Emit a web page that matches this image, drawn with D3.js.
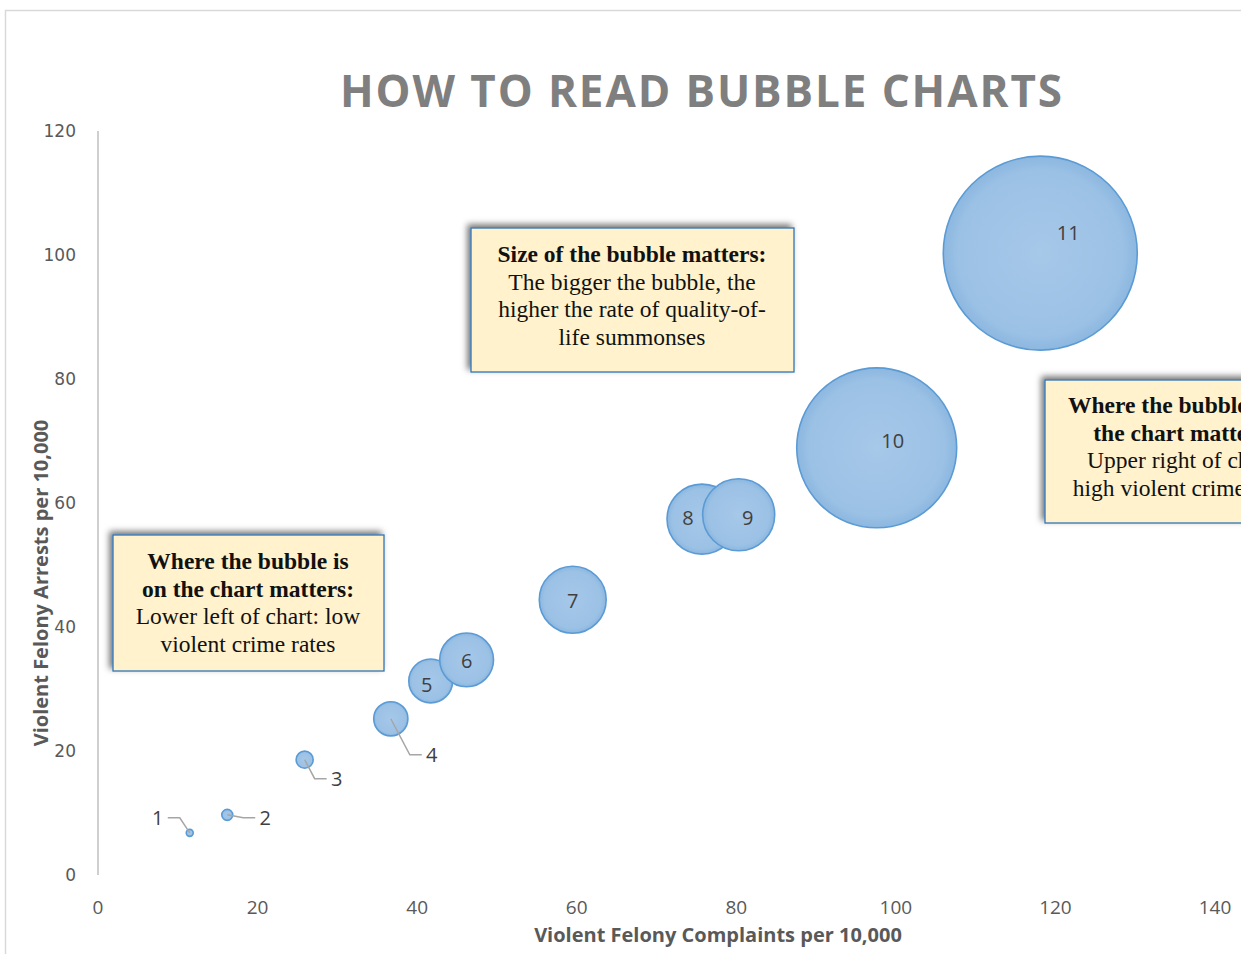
<!DOCTYPE html>
<html>
<head>
<meta charset="utf-8">
<title>How to read bubble charts</title>
<script src="https://cdn.jsdelivr.net/npm/d3@7"></script>
<style>
	body { margin: 0; background: #fff; }
	svg { display: block; }
</style>
</head>
<body>
<div id="chart"></div>
<script>
// precincts
const ids = ["1", "2", "3", "4", "5", "6", "7", "8", "9", "10", "11"];
const complaints = [11.5, 16.2, 25.9, 36.7, 41.7, 46.2, 59.5, 75.7, 80.3, 97.6, 118.1];
const arrests = [6.8, 9.7, 18.6, 25.2, 31.3, 34.7, 44.4, 57.4, 58.1, 68.9, 100.3];
const summonses = [0.13, 0.32, 0.77, 3.1, 5.1, 7.7, 11.9, 13.0, 13.8, 68, 100];
const xTicks = [0, 20, 40, 60, 80, 100, 120, 140];
const yTicks = [0, 20, 40, 60, 80, 100, 120];

// label nudges (px) - leader=true draws the elbow line
const labelPos = [
	{dx: -32, dy: -15, leader: true}, {dx: 38, dy: 3, leader: true},
	{dx: 32, dy: 19, leader: true}, {dx: 41, dy: 36, leader: true},
	{dx: -4, dy: 4}, {dx: 0, dy: 1}, {dx: 0, dy: 1}, {dx: -14, dy: -1},
	{dx: 9, dy: 3}, {dx: 16, dy: -7}, {dx: 28, dy: -20}
];

const notes = [
	{x: 113, y: 535, w: 271, h: 136, cx: 248, y0: 561,
		bold: ["Where the bubble is", "on the chart matters:"], plain: ["Lower left of chart: low", "violent crime rates"]},
	{x: 471, y: 228, w: 323, h: 144, cx: 632, y0: 254,
		bold: ["Size of the bubble matters:"], plain: ["The bigger the bubble, the", "higher the rate of quality-of-", "life summonses"]},
	{x: 1045, y: 380, w: 278, h: 143, cx: 1184, y0: 405,
		bold: ["Where the bubble is on", "the chart matters:"], plain: ["Upper right of chart:", "high violent crime rates"]}
];

const W = 1241, H = 954;
const svg = d3.select("#chart").append("svg").attr("width", W).attr("height", H);
const defs = svg.append("defs");

const grad = defs.append("radialGradient").attr("id", "bub");
grad.append("stop").attr("offset", "0%").attr("stop-color", "#a6c8e9");
grad.append("stop").attr("offset", "85%").attr("stop-color", "#9bc1e5");
grad.append("stop").attr("offset", "100%").attr("stop-color", "#8cb7e0");

defs.append("filter").attr("id", "shadow").attr("x", "-10%").attr("y", "-15%").attr("width", "120%").attr("height", "130%")
	.append("feDropShadow").attr("dx", -3).attr("dy", -3).attr("stdDeviation", 3)
	.attr("flood-color", "#000").attr("flood-opacity", 0.55);

// frame of the chart area
svg.append("path").attr("d", "M5.5," + H + "V10.5H" + W)
	.attr("fill", "none").attr("stroke", "#d9d9d9").attr("stroke-width", 1.5);

const x = d3.scaleLinear().domain([0, 140]).range([98, 1215]);
const y = d3.scaleLinear().domain([0, 120]).range([875, 131]);
const r = d3.scaleSqrt().domain([0, d3.max(summonses)]).range([0, 97]);

svg.append("text").attr("x", 701).attr("y", 107).attr("text-anchor", "middle")
	.attr("textLength", 722).attr("lengthAdjust", "spacing")
	.style("font", "bold 44px 'Open Sans', sans-serif").attr("fill", "#7f7f7f")
	.text("HOW TO READ BUBBLE CHARTS");

// y axis
svg.append("line").attr("x1", 98).attr("x2", 98).attr("y1", y(120)).attr("y2", y(0))
	.attr("stroke", "#bfbfbf").attr("stroke-width", 1.5);
svg.selectAll(".ytick").data(yTicks).join("text").attr("class", "ytick")
	.attr("x", 76).attr("y", d => y(d) + 6).attr("text-anchor", "end")
	.style("font", "17px 'DejaVu Sans', sans-serif").attr("fill", "#595959").text(d => d);

svg.selectAll(".xtick").data(xTicks).join("text").attr("class", "xtick")
	.attr("x", d => x(d)).attr("y", 914).attr("text-anchor", "middle")
	.style("font", "19px 'Open Sans', sans-serif").attr("fill", "#595959").text(d => d);

svg.append("text").attr("x", 718).attr("y", 942).attr("text-anchor", "middle")
	.style("font", "bold 20px 'Open Sans', sans-serif").attr("fill", "#595959")
	.text("Violent Felony Complaints per 10,000");
svg.append("text").attr("transform", "translate(48,583) rotate(-90)").attr("text-anchor", "middle")
	.style("font", "bold 20px 'Open Sans', sans-serif").attr("fill", "#595959")
	.text("Violent Felony Arrests per 10,000");

const pts = ids.map((id, i) => ({id: id, cx: x(complaints[i]), cy: y(arrests[i]), rr: r(summonses[i]), p: labelPos[i]}));

svg.selectAll(".bubble").data(pts).join("circle").attr("class", "bubble")
	.attr("cx", d => d.cx).attr("cy", d => d.cy).attr("r", d => d.rr)
	.attr("fill", "url(#bub)").attr("stroke", "#5b9bd5").attr("stroke-width", 1.6);

// leader lines for the small ones
svg.selectAll(".leader").data(pts.filter(d => d.p.leader)).join("path").attr("class", "leader")
	.attr("d", d => {
		const lx = d.cx + d.p.dx, ly = d.cy + d.p.dy;
		const dir = d.p.dx < 0 ? -1 : 1;
		const end = lx - dir * 10;
		return "M" + d.cx + "," + d.cy + "L" + (end - dir * 12) + "," + ly + "H" + end;
	})
	.attr("fill", "none").attr("stroke", "#a6a6a6").attr("stroke-width", 1.5);

svg.selectAll(".lbl").data(pts).join("text").attr("class", "lbl")
	.attr("x", d => d.cx + d.p.dx).attr("y", d => d.cy + d.p.dy + 7).attr("text-anchor", "middle")
	.style("font", "20px 'Open Sans', sans-serif").attr("fill", "#404040").text(d => d.id);

// annotation boxes
notes.forEach(n => {
	const g = svg.append("g");
	g.append("rect").attr("x", n.x).attr("y", n.y).attr("width", n.w).attr("height", n.h)
		.attr("fill", "#fff2cc").attr("stroke", "#2e75b6").attr("stroke-width", 1.3)
		.attr("filter", "url(#shadow)");
	const lines = n.bold.map(t => ({t: t, b: true})).concat(n.plain.map(t => ({t: t, b: false})));
	g.selectAll("text").data(lines).join("text")
		.attr("x", n.cx).attr("y", (d, i) => n.y0 + 8 + i * 27.5).attr("text-anchor", "middle")
		.style("font-family", "'Liberation Serif', serif").style("font-size", "23.5px")
		.style("font-weight", d => d.b ? "bold" : "normal").attr("fill", "#111").text(d => d.t);
});
</script>
</body>
</html>
